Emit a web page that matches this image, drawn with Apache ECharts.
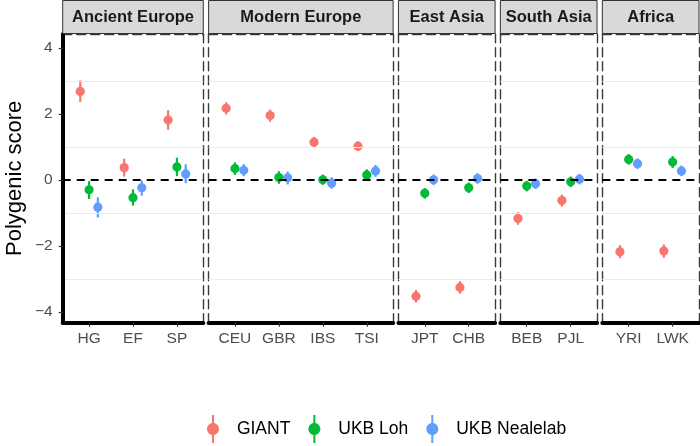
<!DOCTYPE html>
<html>
<head>
<meta charset="utf-8">
<script src="https://cdn.jsdelivr.net/npm/echarts@6/dist/echarts.min.js"></script>
<style>html,body{margin:0;padding:0;background:#fff}#chart{width:700px;height:446px}</style>
</head>
<body>
<div id="chart"></div>
<script>
// ---- data ----
const panelNames = ['Ancient Europe', 'Modern Europe', 'East Asia', 'South Asia', 'Africa'];
const populations = [['HG', 'EF', 'SP'], ['CEU', 'GBR', 'IBS', 'TSI'], ['JPT', 'CHB'], ['BEB', 'PJL'], ['YRI', 'LWK']];
const seriesNames = ['GIANT', 'UKB Loh', 'UKB Nealelab'];
// order: HG EF SP | CEU GBR IBS TSI | JPT CHB | BEB PJL | YRI LWK
const giantScore = [2.68, 0.37, 1.81, 2.17, 1.95, 1.14, 1.02, -3.53, -3.26, -1.17, -0.63, -2.18, -2.16];
const giantLower = [2.36, 0.10, 1.52, 1.98, 1.76, 0.99, 0.87, -3.72, -3.45, -1.36, -0.81, -2.38, -2.36];
const giantUpper = [3.02, 0.64, 2.11, 2.35, 2.13, 1.30, 1.17, -3.34, -3.07, -0.98, -0.45, -1.98, -1.96];
const lohScore = [-0.30, -0.54, 0.39, 0.34, 0.07, 0.00, 0.15, -0.41, -0.24, -0.19, -0.06, 0.62, 0.54];
const lohLower = [-0.58, -0.78, 0.11, 0.15, -0.12, -0.15, -0.02, -0.57, -0.40, -0.35, -0.22, 0.46, 0.36];
const lohUpper = [-0.04, -0.29, 0.67, 0.53, 0.26, 0.16, 0.32, -0.25, -0.08, -0.03, 0.10, 0.78, 0.72];
const nealeScore = [-0.83, -0.24, 0.18, 0.29, 0.06, -0.10, 0.27, 0.00, 0.04, -0.12, 0.02, 0.49, 0.27];
const nealeLower = [-1.14, -0.48, -0.10, 0.11, -0.14, -0.27, 0.09, -0.16, -0.12, -0.28, -0.14, 0.33, 0.11];
const nealeUpper = [-0.53, -0.02, 0.47, 0.48, 0.25, 0.08, 0.45, 0.16, 0.20, 0.04, 0.18, 0.65, 0.43];
const yTickValues = [-4, -2, 0, 2, 4];
const gridLineValues = [-3, -1, 1, 3];
const zeroLineValue = 0;

// ---- styling / layout ----
const colors = ['#F8766D', '#00BA38', '#619CFF'];
const FONT = '"Liberation Sans", Arial, Helvetica, sans-serif';
const yMin = -4.33, yMax = 4.42;
const plotLeft = 62.7, plotRight = 699, panelGap = 5.3, plotTop = 34, plotBottom = 322.7;
const expand = 0.6, dodge = [-0.2, 0, 0.2];
const totalUnits = populations.reduce((a, p) => a + p.length - 1 + 2 * expand, 0);
const unit = (plotRight - plotLeft - panelGap * (populations.length - 1)) / totalUnits;

const scoreSets = [[giantScore, giantLower, giantUpper], [lohScore, lohLower, lohUpper], [nealeScore, nealeLower, nealeUpper]];

const grids = [], xAxes = [], yAxes = [], series = [], graphics = [];
const dashedLine = { show: true, lineStyle: { color: '#3a3a3a', width: 1.4, type: [9, 5] } };
let left = plotLeft, offset = 0;
populations.forEach((cats, p) => {
  const n = cats.length;
  const width = (n - 1 + 2 * expand) * unit;
  grids.push({ left: left, top: plotTop, width: width, height: plotBottom - plotTop, containLabel: false });
  // bottom x axis
  xAxes.push({
    type: 'value', gridIndex: p, min: -expand, max: n - 1 + expand, position: 'bottom', z: 5,
    axisLine: { show: true, onZero: false, lineStyle: { color: '#000', width: 4 } },
    axisTick: { show: true, customValues: cats.map((c, i) => i), length: 4, lineStyle: { color: '#333', width: 1.2 } },
    axisLabel: { show: true, customValues: cats.map((c, i) => i), formatter: v => cats[Math.round(v)], color: '#4d4d4d', fontSize: 15.5, fontFamily: FONT, margin: 8 },
    splitLine: { show: false }
  });
  // top x axis (dashed panel border)
  xAxes.push({
    type: 'value', gridIndex: p, min: -expand, max: n - 1 + expand, position: 'top',
    axisLine: Object.assign({ onZero: false }, dashedLine), axisTick: { show: false }, axisLabel: { show: false }, splitLine: { show: false }
  });
  // left y axis
  if (p === 0) {
    yAxes.push({
      type: 'value', gridIndex: p, min: yMin, max: yMax, position: 'left', z: 5,
      name: 'Polygenic score', nameLocation: 'middle', nameRotate: 90, nameGap: 37,
      nameTextStyle: { color: '#000', fontSize: 22, fontFamily: FONT },
      axisLine: { show: true, onZero: false, lineStyle: { color: '#000', width: 4 } },
      axisTick: { show: true, customValues: yTickValues, length: 4, lineStyle: { color: '#333', width: 1.2 } },
      axisLabel: { show: true, customValues: yTickValues, formatter: v => (v < 0 ? '\u2212' + Math.abs(v) : String(v)), color: '#4d4d4d', fontSize: 15.5, fontFamily: FONT, margin: 10 },
      splitLine: { show: false }
    });
  } else {
    yAxes.push({
      type: 'value', gridIndex: p, min: yMin, max: yMax, position: 'left',
      axisLine: Object.assign({ onZero: false }, dashedLine), axisTick: { show: false }, axisLabel: { show: false }, splitLine: { show: false }
    });
  }
  // right y axis (dashed panel border)
  yAxes.push({
    type: 'value', gridIndex: p, min: yMin, max: yMax, position: 'right',
    axisLine: Object.assign({ onZero: false }, dashedLine), axisTick: { show: false }, axisLabel: { show: false }, splitLine: { show: false }
  });

  // grid lines + zero line
  series.push({
    type: 'line', xAxisIndex: 2 * p, yAxisIndex: 2 * p, data: [], z: 1, silent: true,
    markLine: {
      silent: true, symbol: ['none', 'none'], label: { show: false }, animation: false,
      lineStyle: { color: '#ebebeb', width: 1, type: 'solid' },
      emphasis: { disabled: true },
      data: gridLineValues.map(v => ({ yAxis: v }))
    }
  });
  series.push({
    type: 'line', xAxisIndex: 2 * p, yAxisIndex: 2 * p, data: [], z: 1, silent: true,
    markLine: {
      silent: true, symbol: ['none', 'none'], label: { show: false }, animation: false,
      lineStyle: { color: '#000', width: 2, type: [8, 6] },
      emphasis: { disabled: true },
      data: [{ yAxis: zeroLineValue }]
    }
  });

  // point ranges
  seriesNames.forEach((name, s) => {
    const [sc, lo, hi] = scoreSets[s];
    const data = cats.map((c, i) => [i, sc[offset + i], lo[offset + i], hi[offset + i]]);
    const color = colors[s];
    series.push({
      type: 'custom', name: name, xAxisIndex: 2 * p, yAxisIndex: 2 * p, z: 3,
      itemStyle: { color: color },
      encode: { x: 0, y: [1, 2, 3] },
      data: data,
      renderItem: (params, api) => {
        const xv = api.value(0) + dodge[s];
        const c = api.coord([xv, api.value(1)]);
        const a = api.coord([xv, api.value(2)]);
        const b = api.coord([xv, api.value(3)]);
        return {
          type: 'group', children: [
            { type: 'line', shape: { x1: a[0], y1: a[1], x2: b[0], y2: b[1] }, style: { stroke: color, lineWidth: 2.2 } },
            { type: 'circle', shape: { cx: c[0], cy: c[1], r: 4.6 }, style: { fill: color } }
          ]
        };
      }
    });
  });

  // strip
  graphics.push({ type: 'rect', shape: { x: left, y: 0.5, width: width, height: 33 }, style: { fill: '#D9D9D9', stroke: '#333', lineWidth: 1 }, z: 10 });
  graphics.push({ type: 'text', x: left + width / 2, y: 17.5, style: { text: panelNames[p], font: 'bold 16.5px ' + FONT, fill: '#1a1a1a', align: 'center', verticalAlign: 'middle' }, z: 11 });

  left += width + panelGap;
  offset += n;
});

// legend key: vertical line with a circle centred on it, plus spacing to the label
const legendIcon = 'path://M6,0H8V28H6Z M7,8C10.314,8 13,10.686 13,14C13,17.314 10.314,20 7,20C3.686,20 1,17.314 1,14C1,10.686 3.686,8 7,8Z M25.4,0L25.4,0.01Z M25.4,28L25.4,27.99Z';

const chart = echarts.init(document.getElementById('chart'), null, { renderer: 'canvas' });
chart.setOption({
  animation: false,
  backgroundColor: '#fff',
  grid: grids,
  xAxis: xAxes,
  yAxis: yAxes,
  legend: {
    data: seriesNames, left: 202, top: 410, orient: 'horizontal',
    itemWidth: 25.4, itemHeight: 28, itemGap: 18, icon: legendIcon,
    textStyle: { color: '#000', fontSize: 17.5, fontFamily: FONT },
    selectedMode: false
  },
  graphic: graphics,
  series: series
});
</script>
</body>
</html>
